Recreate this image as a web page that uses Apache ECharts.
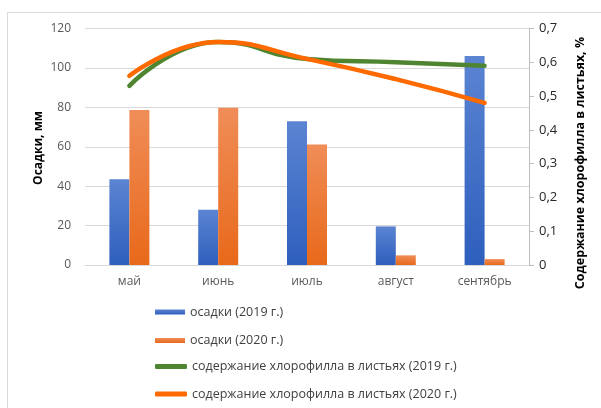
<!DOCTYPE html>
<html>
<head>
<meta charset="utf-8">
<script src="https://cdn.jsdelivr.net/npm/echarts@6/dist/echarts.min.js"></script>
<style>html,body{margin:0;padding:0;background:#fff}#c{width:601px;height:408px}</style>
</head>
<body>
<div id="c"></div>
<script>
const categories = ['май', 'июнь', 'июль', 'август', 'сентябрь'];
const rain2019 = [43.5, 28, 73, 19.6, 106];
const rain2020 = [78.6, 79.8, 61.2, 4.9, 3.0];
const chl2019 = [0.53, 0.66, 0.61, 0.60, 0.59];
const chl2020 = [0.56, 0.66, 0.61, 0.55, 0.48];
const leftTicks = [0, 20, 40, 60, 80, 100, 120];
const rightTicks = [0, 0.1, 0.2, 0.3, 0.4, 0.5, 0.6, 0.7];
const names = ['осадки (2019 г.)', 'осадки (2020 г.)', 'содержание хлорофилла в листьях (2019 г.)', 'содержание хлорофилла в листьях (2020 г.)'];
const leftName = 'Осадки, мм';
const rightName = 'Содержание хлорофилла в листьях, %';

const FONT = 'Open Sans';
const chart = echarts.init(document.getElementById('c'), null, {renderer: 'canvas'});

function grad(top, bottom) {
  return new echarts.graphic.LinearGradient(0, 0, 0, 1, [{offset: 0, color: top}, {offset: 1, color: bottom}]);
}
function legendAt(name, top, icon, w, h) {
  return {
    data: [{name: name, icon: icon}],
    left: 155, top: top, itemWidth: w, itemHeight: h,
    itemGap: 0, padding: 0, selectedMode: false,
    textStyle: {fontFamily: FONT, fontSize: 12.5, color: '#404040', padding: [0, 0, 0, 0]}
  };
}

chart.setOption({
  backgroundColor: '#fff',
  animation: false,
  grid: {left: 85, right: 72, top: 28.5, bottom: 143, containLabel: false},
  xAxis: {
    type: 'category', data: categories,
    axisLine: {lineStyle: {color: '#d9d9d9', width: 1}},
    axisTick: {show: false},
    axisLabel: {fontFamily: FONT, fontSize: 12, color: '#595959', margin: 11}
  },
  yAxis: [{
    type: 'value', min: leftTicks[0], max: leftTicks[leftTicks.length - 1], interval: 20,
    axisLine: {show: false}, axisTick: {show: false},
    axisLabel: {fontFamily: FONT, fontSize: 12, color: '#595959', margin: 14},
    splitLine: {lineStyle: {color: '#d9d9d9', width: 1}}
  }, {
    type: 'value', min: rightTicks[0], max: rightTicks[rightTicks.length - 1], interval: 0.1,
    position: 'right',
    axisLine: {show: true, lineStyle: {color: '#bfbfbf', width: 1}},
    axisTick: {show: true, length: 5, lineStyle: {color: '#bfbfbf'}},
    axisLabel: {fontFamily: FONT, fontSize: 13, color: '#262626', margin: 10,
      formatter: v => String(Math.round(v * 10) / 10).replace('.', ',')},
    splitLine: {show: false}
  }],
  legend: [
    legendAt(names[0], 305.5, 'rect', 30, 5),
    legendAt(names[1], 334, 'rect', 30, 5),
    legendAt(names[2], 360, 'roundRect', 32, 5),
    legendAt(names[3], 387.5, 'roundRect', 32, 5)
  ],
  series: [{
    name: names[0], type: 'bar', data: rain2019, barWidth: 20, barGap: '0%',
    itemStyle: {color: grad('#5b84d2', '#2e5fbd')}
  }, {
    name: names[1], type: 'bar', data: rain2020, barWidth: 20, barGap: '0%',
    itemStyle: {color: grad('#f08d58', '#e8691a')}
  }, {
    name: names[2], type: 'line', yAxisIndex: 1, data: chl2019, smooth: 0.5,
    showSymbol: false, symbol: 'none', color: '#4f8530',
    lineStyle: {width: 4.5, color: '#4f8530', cap: 'round'}
  }, {
    name: names[3], type: 'line', yAxisIndex: 1, data: chl2020, smooth: 0.5,
    showSymbol: false, symbol: 'none', color: '#ff6a00',
    lineStyle: {width: 4.5, color: '#ff6a00', cap: 'round'}
  }],
  graphic: [{
    type: 'rect', shape: {x: 7.5, y: 12.5, width: 620, height: 420},
    style: {fill: 'none', stroke: '#d9d9d9', lineWidth: 1}, silent: true, z: -10
  }, {
    type: 'text', x: 39, y: 148, rotation: Math.PI / 2,
    style: {text: leftName, fontFamily: FONT, fontSize: 12, fontWeight: 'bold', fill: '#000',
      align: 'center', verticalAlign: 'middle'}
  }, {
    type: 'text', x: 580, y: 163, rotation: Math.PI / 2,
    style: {text: rightName, fontFamily: FONT, fontSize: 12.5, fontWeight: 'bold', fill: '#000',
      align: 'center', verticalAlign: 'middle'}
  }]
});
</script>
</body>
</html>
